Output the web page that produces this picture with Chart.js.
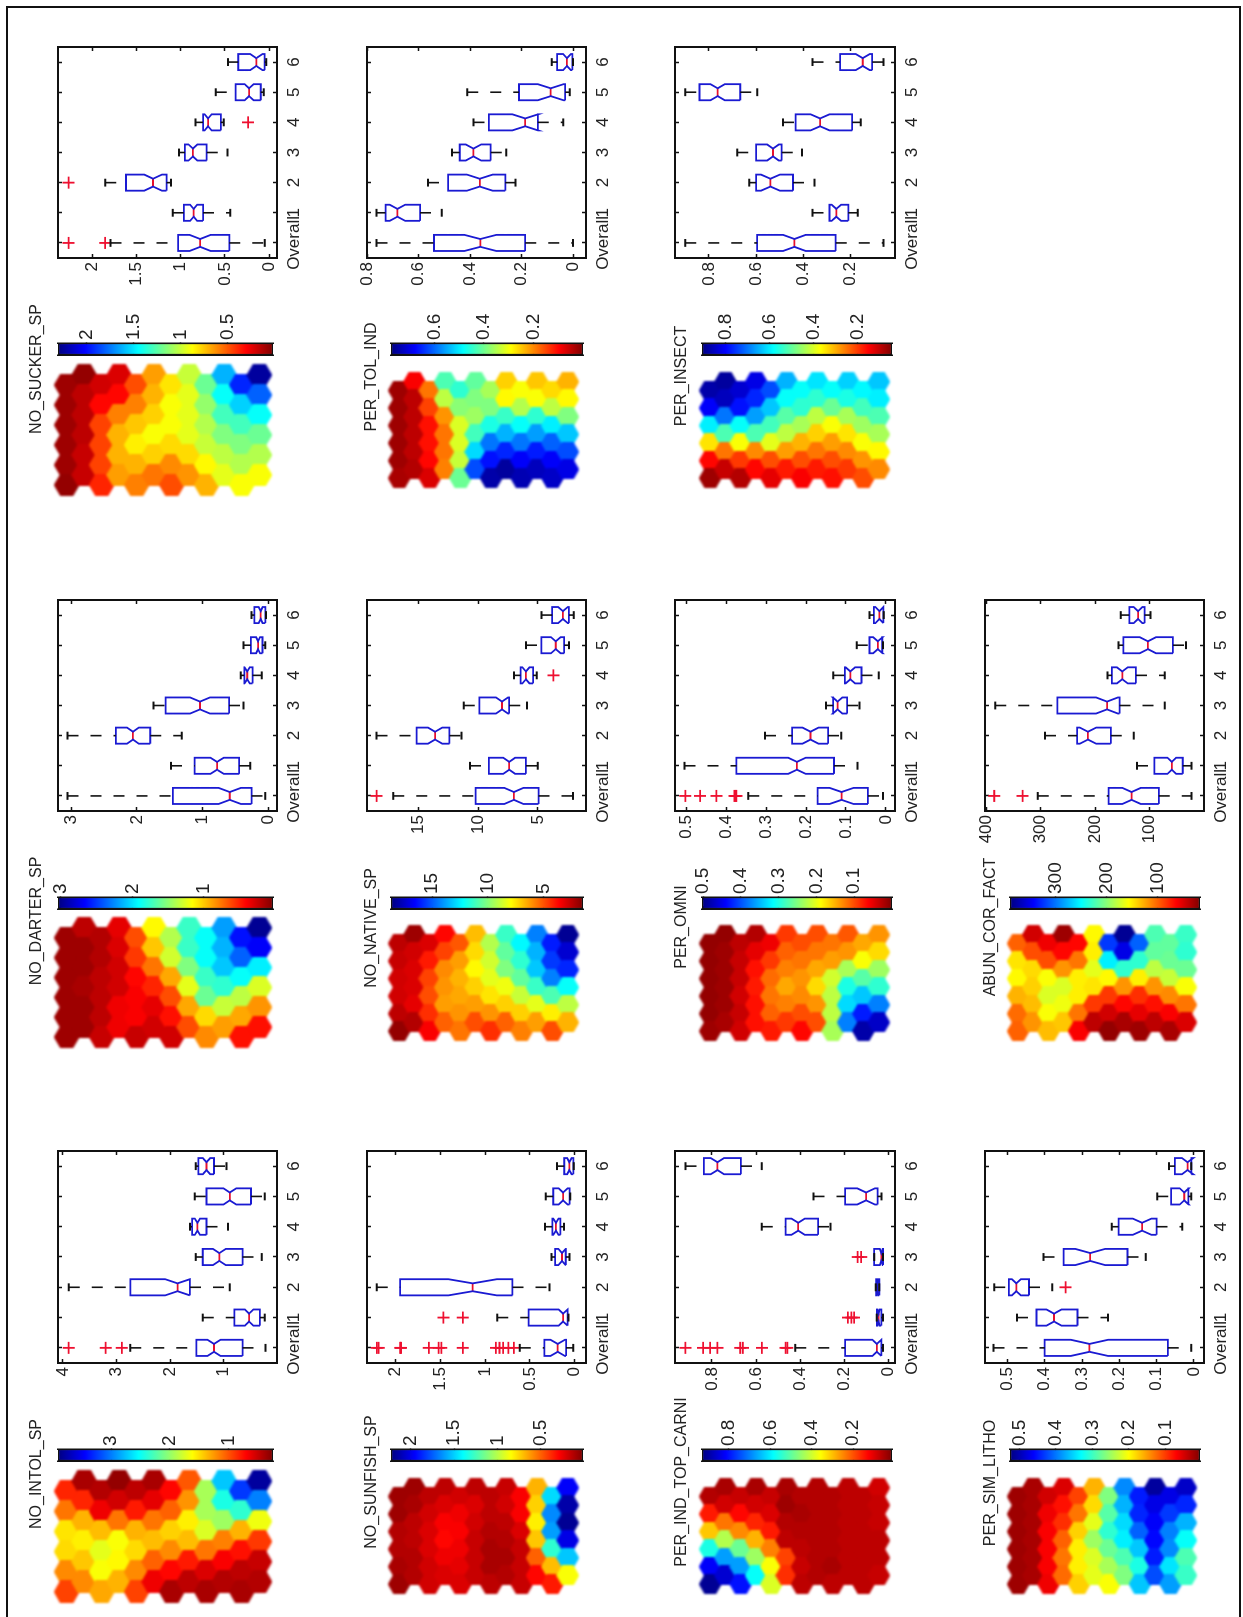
<!DOCTYPE html>
<html><head><meta charset="utf-8"><title>SOM component planes and box plots</title>
<style>
html,body{margin:0;padding:0;width:1243px;height:1617px;overflow:hidden;background:#fff}
#frame{position:absolute;left:6px;top:6px;width:1235px;height:1700px;border:2px solid #111;box-sizing:border-box}
#root{position:absolute;left:0;top:0;width:1617px;height:1243px;transform-origin:0 0;transform:translateY(1617px) rotate(-90deg)}
#root canvas{position:absolute;filter:blur(.35px)}
#root canvas.hex{filter:blur(.9px)}
.t{position:absolute;transform:translate(-50%,-50%);white-space:nowrap;font:16px "Liberation Sans",Arial,sans-serif;color:#222}
</style>
<script src="https://cdn.jsdelivr.net/npm/chart.js@4/dist/chart.umd.js"></script>
</head><body><div id="frame"></div><div id="root"></div>
<script>
const boxCategories=['Overall','1','2','3','4','5','6'];
// box rows: [low whisker, Q1, median, Q3, high whisker, notch half-height]; one row per category
const boxNoSucker=[[.05,.45,.78,1.03,1.795,.12],[.44,.747,.854,.965,1.09,.04],[1.11,1.16,1.314,1.62,1.856,.1],[.47,.706,.862,.953,1.02,.05],[.513,.546,.69,.747,.834,.04],[.06,.094,.226,.378,.604,.05],[.033,.05,.144,.349,.464,.07]];
const outNoSucker=[[1,2.27],[1,1.856],[3,2.27],[5,.238]];
const boxPerTol=[[0,.186,.36,.54,.763,.062],[.51,.594,.682,.728,.763,.03],[.224,.263,.362,.485,.563,.05],[.26,.32,.387,.44,.47,.03],[.038,.137,.186,.327,.387,.05],[.013,.031,.087,.21,.411,.05],[0,.003,.024,.062,.083,.015]];
const outPerTol=[];
const boxPerInsect=[[.059,.262,.437,.595,.9,.048],[.168,.208,.259,.288,.36,.02],[.352,.443,.539,.6,.629,.04],[.405,.491,.528,.6,.68,.025],[.155,.192,.328,.432,.485,.04],[.595,.667,.763,.84,.9,.03],[.059,.107,.147,.243,.36,.03]];
const outPerInsect=[];
const boxNoDarter=[[.044,.254,.586,1.453,3.055,.17],[.276,.442,.779,1.12,1.48,.1],[1.315,1.796,2.06,2.32,3.055,.09],[.376,.597,1.039,1.563,1.746,.15],[.1,.238,.32,.365,.42,.04],[.044,.088,.155,.265,.376,.03],[.033,.044,.116,.21,.254,.03]];
const outNoDarter=[];
const boxNoNative=[[2.06,4.94,7,10.2,17.1,.8],[5,6,7.4,9.1,10.67,.5],[11.4,12.4,13.6,15.15,18.5,.6],[5.9,7.4,8,9.9,11.2,.5],[5.1,5.4,6,6.45,7,.3],[2.4,2.8,3.5,4.7,6,.4],[2,2.4,2.9,3.8,4.7,.4]];
const outNoNative=[[1,18.5],[5,3.7]];
const boxPerOmni=[[.007,.045,.111,.171,.345,.03],[.071,.13,.223,.375,.505,.022],[.112,.145,.189,.235,.303,.02],[.066,.097,.121,.132,.15,.012],[.018,.061,.089,.103,.132,.012],[.007,.009,.02,.041,.073,.012],[.005,.006,.016,.03,.041,.01]];
const outPerOmni=[[1,.503],[1,.466],[1,.425],[1,.38],[1,.375],[1,.377]];
const boxAbun=[[23,83,133,175,305,17],[23,39,59,91,123,8],[129,171,213,233,292,15],[72,155,178,269,383,20],[72,125,150,169,177,10],[33,57,103,148,157,15],[98,109,121,137,153,8]];
const outAbun=[[1,385],[1,333]];
const boxNoIntol=[[.22,.648,1.18,1.51,2.74,.12],[.235,.323,.526,.8,1.39,.08],[.885,1.63,1.86,2.74,3.89,.23],[.29,.648,1.08,1.39,1.52,.12],[.92,1.32,1.49,1.59,1.63,.05],[.235,.49,.885,1.32,1.54,.12],[.946,1.18,1.32,1.47,1.52,.07]];
const outNoIntol=[[1,3.89],[1,3.2],[1,2.9]];
const boxNoSunfish=[[.016,.097,.19,.34,.615,.08],[.07,.08,.13,.514,.866,.05],[.283,.696,1.14,1.95,2.21,.27],[.057,.1,.142,.219,.259,.04],[.12,.16,.21,.25,.332,.03],[.05,.057,.13,.24,.324,.05],[.01,.016,.06,.117,.198,.025]];
const outNoSunfish=[[1,2.21],[1,2.19],[1,1.95],[1,1.94],[1,1.63],[1,1.52],[1,1.49],[1,1.25],[1,.88],[1,.84],[1,.8],[1,.74],[1,.68],[2,1.466],[2,1.25]];
const boxPerInd=[[.026,.034,.054,.198,.423,.02],[.026,.034,.046,.054,.054,.005],[.043,.043,.051,.057,.059,.003],[.026,.026,.034,.066,.066,.006],[.264,.32,.41,.467,.575,.03],[.033,.051,.103,.198,.341,.04],[.575,.669,.775,.836,.92,.03]];
const outPerInd=[[1,.92],[1,.84],[1,.808],[1,.775],[1,.672],[1,.66],[1,.574],[1,.467],[1,.459],[2,.185],[2,.169],[2,.157],[4,.141],[4,.125]];
const boxPerSim=[[.007,.07,.28,.4,.537,.05],[.23,.312,.375,.422,.474,.02],[.38,.442,.476,.496,.535,.012],[.129,.178,.278,.349,.403,.04],[.031,.1,.139,.202,.22,.025],[.007,.015,.026,.061,.098,.012],[.007,.007,.017,.051,.067,.015]];
const outPerSim=[[3,.344]];

// hexagon cells: 12 columns of 6, listed page-left to page-right, read as percent along the colour bar (0 = low end, dark red; 100 = high end, navy)
const hexNoSucker=[[3,3,3,3,3,2],[2,6,6,6,7,7],[8,13,19,19,19,16],[9,13,25,30,30,28],[20,25,32,36,30,25],[28,30,33,38,33,24],[35,38,38,34,26,20],[43,40,40,40,34,27],[52,48,45,43,37,30],[70,62,56,50,44,40],[84,67,56,50,45,38],[97,78,62,52,45,38]];
const hexPerTol=[[3,3,3,3,3,4],[12,6,6,6,6,5],[24,19,14,14,13,9],[55,44,27,24,24,25],[58,49,41,41,43,52],[53,50,47,56,66,80],[46,50,60,76,86,96],[33,37,57,70,84,97],[38,45,62,76,88,95],[32,38,58,72,85,94],[34,44,64,78,88,93],[30,37,50,68,80,90]];
const hexPerInsect=[[96,88,64,35,13,3],[97,94,76,55,24,7],[92,86,62,38,18,5],[90,84,72,55,26,13],[80,68,56,40,20,10],[70,62,54,44,28,15],[62,58,46,30,20,12],[65,58,44,33,24,15],[62,52,38,28,20,14],[67,60,46,35,26,18],[63,56,47,38,27,20],[68,64,55,46,37,26]];
const hexNoDarter=[[3,3,3,3,3,3],[6,3,3,4,3,3],[5,5,6,6,6,7],[10,9,8,8,11,11],[20,18,13,12,12,7],[37,32,24,16,10,8],[45,42,29,20,14,8],[57,57,50,40,29,20],[62,62,57,52,34,26],[72,70,68,58,43,28],[86,78,62,44,29,14],[98,88,64,41,27,14]];
const hexNoNative=[[6,7,8,8,6,2],[3,8,9,9,10,5],[9,15,19,20,17,12],[13,19,26,27,28,22],[21,28,30,29,27,24],[31,34,37,33,28,20],[45,42,40,35,27,17],[57,53,50,39,33,22],[63,58,53,43,33,25],[75,70,68,57,40,28],[85,82,75,55,36,20],[98,92,84,62,44,30]];
const hexPerOmni=[[2,2,2,2,2,3],[2,3,3,3,3,4],[6,7,7,8,7,8],[5,10,14,15,14,14],[11,18,23,24,22,15],[18,22,25,29,25,18],[20,24,27,26,20,13],[20,24,29,34,27,20],[24,28,42,44,44,46],[21,27,46,60,66,75],[29,38,54,68,85,96],[27,34,47,58,75,93]];
const hexAbun=[[22,35,37,30,23,22],[8,20,34,33,31,27],[11,20,38,41,38,31],[3,13,27,41,39,32],[13,24,36,36,24,12],[37,36,40,35,18,6],[82,64,37,18,8,2],[98,90,58,27,13,4],[78,58,36,17,10,3],[55,53,44,27,14,6],[53,52,43,26,12,4],[57,58,52,38,24,9]];
const hexNoIntol=[[16,24,35,34,26,19],[4,16,30,36,32,26],[5,11,31,40,38,29],[2,8,24,38,37,30],[6,15,30,34,26,19],[4,10,24,31,22,11],[13,22,33,26,13,4],[21,27,36,31,15,6],[46,46,41,24,9,4],[68,60,47,25,12,5],[82,58,30,14,6,4],[97,75,39,18,7,5]];
const hexNoSunfish=[[3,3,5,5,4,3],[3,4,6,6,5,5],[6,8,9,9,8,8],[6,9,12,13,11,9],[8,11,12,11,10,9],[6,9,8,7,7,7],[6,6,5,4,4,6],[7,8,6,5,4,5],[12,12,9,7,7,7],[30,33,36,32,22,13],[66,74,72,58,31,15],[88,96,98,90,68,38]];
const hexPerInd=[[5,15,32,60,88,98],[4,8,24,45,72,92],[7,13,26,52,72,86],[4,8,16,30,47,62],[7,9,15,25,38,41],[4,3,5,6,19,17],[5,4,5,6,7,6],[5,5,5,5,5,5],[5,5,5,5,4,6],[6,6,6,6,6,6],[6,6,6,6,6,6],[8,7,7,6,6,7]];
const hexPerSim=[[3,3,3,3,3,3],[4,4,4,4,4,4],[8,11,12,12,12,11],[9,14,17,22,24,23],[19,24,33,36,36,33],[30,34,40,47,41,40],[50,54,58,52,46,38],[74,70,66,64,55,50],[85,84,78,68,60,68],[97,90,88,87,85,80],[90,82,75,74,65,72],[93,84,70,62,55,57]];

// axis ticks and limits
const tickNoSucker=[0,.5,1,1.5,2], limNoSucker=[-.09,2.39], barNoSucker=[.02,2.3], barTickNoSucker=[.5,1,1.5,2];
const tickPerTol=[0,.2,.4,.6,.8], limPerTol=[-.05,.8], barPerTol=[0,.775], barTickPerTol=[.2,.4,.6];
const tickPerInsect=[.2,.4,.6,.8], limPerInsect=[.01,.944], barPerInsect=[.045,.907], barTickPerInsect=[.2,.4,.6,.8];
const tickNoDarter=[0,1,2,3], limNoDarter=[-.133,3.2], barNoDarter=[.03,3.04], barTickNoDarter=[1,2,3];
const tickNoNative=[5,10,15], limNoNative=[.97,19.3], barNoNative=[1.45,18.7], barTickNoNative=[5,10,15];
const tickPerOmni=[0,.1,.2,.3,.4,.5], limPerOmni=[-.023,.529], barPerOmni=[0,.503], barTickPerOmni=[.1,.2,.3,.4,.5];
const tickAbun=[100,200,300,400], limAbun=[0,402], barAbun=[17,390], barTickAbun=[100,200,300];
const tickNoIntol=[1,2,3,4], limNoIntol=[.005,4.09], barNoIntol=[.25,3.9], barTickNoIntol=[1,2,3];
const tickNoSunfish=[0,.5,1,1.5,2], limNoSunfish=[-.126,2.32], barNoSunfish=[.01,2.23], barTickNoSunfish=[.5,1,1.5,2];
const tickPerInd=[0,.2,.4,.6,.8], limPerInd=[-.028,.967], barPerInd=[.013,.93], barTickPerInd=[.2,.4,.6,.8];
const tickPerSim=[0,.1,.2,.3,.4,.5], limPerSim=[-.027,.56], barPerSim=[.005,.526], barTickPerSim=[.1,.2,.3,.4,.5];

const PAGE_H=1617;
const FONT='"Liberation Sans",Arial,sans-serif';
const INK='#222';
const root=document.getElementById('root');

const boxCols=[[57.5,276],[366.5,585],[675,895],[985,1204]];
const boxRows=[[47,258],[600,811],[1151,1363]];
const barCols=[[57.5,272],[391,582.6],[701.5,891],[1010,1200]];
const barRows=[[343,355],[897,909],[1449,1461]];
const hexCols=[[55,270.7],[389.3,578.7],[699.5,888],[1008,1196]];
const hexRowsWide=[[365,495],[918,1047],[1471,1602]];
const hexRowsNarrow=[[373,487],[926,1040],[1479,1593]];

const panels=[
 {name:'NO_SUCKER_SP',c:0,r:0,box:boxNoSucker,out:outNoSucker,hex:hexNoSucker,tick:tickNoSucker,lim:limNoSucker,bar:barNoSucker,barTick:barTickNoSucker,tx:36,ty:369},
 {name:'PER_TOL_IND',c:1,r:0,box:boxPerTol,out:outPerTol,hex:hexPerTol,tick:tickPerTol,lim:limPerTol,bar:barPerTol,barTick:barTickPerTol,tx:371,ty:377},
 {name:'PER_INSECT',c:2,r:0,box:boxPerInsect,out:outPerInsect,hex:hexPerInsect,tick:tickPerInsect,lim:limPerInsect,bar:barPerInsect,barTick:barTickPerInsect,tx:681,ty:376},
 {name:'NO_DARTER_SP',c:0,r:1,box:boxNoDarter,out:outNoDarter,hex:hexNoDarter,tick:tickNoDarter,lim:limNoDarter,bar:barNoDarter,barTick:barTickNoDarter,tx:36,ty:921},
 {name:'NO_NATIVE_SP',c:1,r:1,box:boxNoNative,out:outNoNative,hex:hexNoNative,tick:tickNoNative,lim:limNoNative,bar:barNoNative,barTick:barTickNoNative,tx:371,ty:928},
 {name:'PER_OMNI',c:2,r:1,box:boxPerOmni,out:outPerOmni,hex:hexPerOmni,tick:tickPerOmni,lim:limPerOmni,bar:barPerOmni,barTick:barTickPerOmni,tx:681,ty:927},
 {name:'ABUN_COR_FACT',c:3,r:1,box:boxAbun,out:outAbun,hex:hexAbun,tick:tickAbun,lim:limAbun,bar:barAbun,barTick:barTickAbun,tx:990,ty:927},
 {name:'NO_INTOL_SP',c:0,r:2,box:boxNoIntol,out:outNoIntol,hex:hexNoIntol,tick:tickNoIntol,lim:limNoIntol,bar:barNoIntol,barTick:barTickNoIntol,tx:36,ty:1474},
 {name:'NO_SUNFISH_SP',c:1,r:2,box:boxNoSunfish,out:outNoSunfish,hex:hexNoSunfish,tick:tickNoSunfish,lim:limNoSunfish,bar:barNoSunfish,barTick:barTickNoSunfish,tx:371,ty:1482},
 {name:'PER_IND_TOP_CARNI',c:2,r:2,box:boxPerInd,out:outPerInd,hex:hexPerInd,tick:tickPerInd,lim:limPerInd,bar:barPerInd,barTick:barTickPerInd,tx:681,ty:1482},
 {name:'PER_SIM_LITHO',c:3,r:2,box:boxPerSim,out:outPerSim,hex:hexPerSim,tick:tickPerSim,lim:limPerSim,bar:barPerSim,barTick:barTickPerSim,tx:990,ty:1483}
];

// reversed jet colour map: f=0 dark red, f=1 navy
const jetStops=[[0,[128,0,0]],[.125,[255,0,0]],[.375,[255,255,0]],[.625,[0,255,255]],[.875,[0,0,255]],[1,[0,0,128]]];
function jet(f){
  for(let i=1;i<jetStops.length;i++){
    if(f<=jetStops[i][0]){
      const [a,ca]=jetStops[i-1],[b,cb]=jetStops[i],t=(f-a)/(b-a);
      return 'rgb('+ca.map((v,k)=>Math.round(v+(cb[k]-v)*t)).join(',')+')';
    }
  }
  return 'rgb(0,0,128)';
}
function addCanvas(left,top,w,h,cls){
  const c=document.createElement('canvas');
  c.width=Math.round(w);c.height=Math.round(h);
  c.style.left=left+'px';c.style.top=top+'px';
  c.style.width=Math.round(w)+'px';c.style.height=Math.round(h)+'px';
  if(cls)c.className=cls;
  root.appendChild(c);
  return c;
}
function fixedTicks(vals){return s=>{s.ticks=vals.map(v=>({value:v}));};}
const base={responsive:false,animation:false,devicePixelRatio:1,events:[],
  plugins:{legend:{display:false},tooltip:{enabled:false},title:{display:false}}};

function drawBox(p){
  const [x0,x1]=boxCols[p.c],[y0,y1]=boxRows[p.r];
  const mL=44,mB=34,mT=20,mR=20;
  const cv=addCanvas(PAGE_H-y1-mL,x0-mT,(y1-y0)+mL+mR,(x1-x0)+mT+mB);
  const W=.267,N=.13,C=.13,shell=[],meds=[],whisk=[],caps=[];
  const gap={x:NaN,y:NaN};
  p.box.forEach((b,i)=>{
    const x=i+1,[lo,q1,med,q3,hi,n]=b;
    shell.push({x:x-W,y:q1},{x:x-W,y:med-n},{x:x-N,y:med},{x:x-W,y:med+n},{x:x-W,y:q3},{x:x+W,y:q3},{x:x+W,y:med+n},{x:x+N,y:med},{x:x+W,y:med-n},{x:x+W,y:q1},{x:x-W,y:q1},gap);
    meds.push({x:x-N,y:med},{x:x+N,y:med},gap);
    whisk.push({x,y:hi},{x,y:q3},gap,{x,y:q1},{x,y:lo},gap);
    caps.push({x:x-C,y:hi},{x:x+C,y:hi},gap,{x:x-C,y:lo},{x:x+C,y:lo},gap);
  });
  const line=(label,data,color,w,dash)=>({label,data,showLine:true,borderColor:color,borderWidth:w,borderDash:dash||[],pointRadius:0,fill:false,tension:0,spanGaps:false,borderJoinStyle:'miter'});
  const bdr={display:true,color:'#111',width:2};
  const grid={drawOnChartArea:false,tickLength:-4,tickColor:'#111',tickWidth:1.5};
  const bt=fixedTicks([1,2,3,4,5,6,7]),vt=fixedTicks(p.tick);
  new Chart(cv,{type:'scatter',data:{datasets:[
    line('whiskers',whisk,'#111',1.6,[11,12]),
    line('caps',caps,'#111',2),
    line('boxes',shell,'#1a1ad2',1.8),
    line('medians',meds,'#e8102c',1.8),
    {label:'outliers',data:p.out.map(o=>({x:o[0],y:o[1]})),showLine:false,pointStyle:'cross',pointRadius:6,pointBorderColor:'#ee1030',pointBorderWidth:1.8,clip:false}
  ]},options:{...base,layout:{autoPadding:false,padding:0},scales:{
    x:{type:'linear',position:'bottom',min:.5,max:7.5,afterBuildTicks:bt,afterFit:s=>{s.height=mB;},grid,border:bdr,
       ticks:{autoSkip:false,maxRotation:0,minRotation:0,padding:11,color:INK,font:{family:FONT,size:17},callback:v=>boxCategories[v-1]}},
    x2:{type:'linear',position:'top',min:.5,max:7.5,afterBuildTicks:bt,afterFit:s=>{s.height=mT;},grid,border:bdr,ticks:{display:false}},
    y:{type:'linear',position:'left',min:p.lim[0],max:p.lim[1],afterBuildTicks:vt,afterFit:s=>{s.width=mL;},grid,border:bdr,
       ticks:{autoSkip:false,padding:8,color:INK,font:{family:FONT,size:17},callback:v=>String(v)}},
    y2:{type:'linear',position:'right',min:p.lim[0],max:p.lim[1],afterBuildTicks:vt,afterFit:s=>{s.width=mR;},grid,border:bdr,ticks:{display:false}}
  }}});
}

function drawBar(p){
  const [x0,x1]=barCols[p.c],[y0,y1]=barRows[p.r];
  const mL=3,mR=42,pad=20;
  const cv=addCanvas(PAGE_H-y1-mL,x0-pad,(y1-y0)+mL+mR,(x1-x0)+2*pad);
  const bdr={display:true,color:'#111',width:1.5};
  const grid={drawOnChartArea:false,tickLength:-3,tickColor:'#111',tickWidth:1.5};
  const vt=fixedTicks(p.barTick);
  new Chart(cv,{type:'bar',data:{labels:[p.name],datasets:[{
    data:[[p.bar[0],p.bar[1]]],barPercentage:1,categoryPercentage:1,borderWidth:1.5,borderColor:'#111',borderSkipped:false,
    backgroundColor:c=>{
      const a=c.chart.chartArea; if(!a)return '#888';
      const g=c.chart.ctx.createLinearGradient(0,a.bottom,0,a.top);
      jetStops.forEach(s=>g.addColorStop(s[0],jet(Math.min(s[0],.9999))));
      return g;
    }
  }]},options:{...base,layout:{autoPadding:false,padding:{top:pad,bottom:pad}},scales:{
    x:{type:'category',display:false},
    y:{type:'linear',position:'right',min:p.bar[0],max:p.bar[1],afterBuildTicks:vt,afterFit:s=>{s.width=mR;},grid,border:bdr,
       ticks:{autoSkip:false,padding:6,color:INK,font:{family:FONT,size:19},callback:v=>String(v)}},
    y2:{type:'linear',position:'left',min:p.bar[0],max:p.bar[1],afterBuildTicks:vt,afterFit:s=>{s.width=mL;},grid,border:bdr,ticks:{display:false}}
  }}});
}

const hexCache={};
function hexImage(color,cw,ch){
  const key=color+cw+ch;
  if(hexCache[key])return hexCache[key];
  const m=1,c=document.createElement('canvas');
  c.width=Math.ceil(cw+2*m);c.height=Math.ceil(ch+2*m);
  const g=c.getContext('2d'),w=c.width,h=c.height;
  g.fillStyle=color;g.beginPath();
  g.moveTo(w/2,0);g.lineTo(w,h/4);g.lineTo(w,3*h/4);g.lineTo(w/2,h);g.lineTo(0,3*h/4);g.lineTo(0,h/4);g.closePath();g.fill();
  return hexCache[key]=c;
}
function drawHex(p){
  const [x0,x1]=hexCols[p.c],[y0,y1]=(p.c===0?hexRowsWide:hexRowsNarrow)[p.r];
  const w=y1-y0,h=x1-x0;
  const cv=addCanvas(PAGE_H-y1-2,x0-2,w+4,h+4,'hex');
  const cw=w/6.5,ch=h/18.5*2;
  const pts=[],imgs=[];
  p.hex.forEach((col,j)=>col.forEach((lvl,i)=>{
    pts.push({x:(5-i)+(j%2?.5:0),y:j});
    imgs.push(hexImage(jet(lvl/100),cw,ch));
  }));
  new Chart(cv,{type:'scatter',data:{datasets:[{label:p.name,data:pts,pointStyle:imgs,pointRadius:3,pointBorderWidth:0,clip:false}]},
    options:{...base,layout:{autoPadding:false,padding:2},scales:{
      x:{type:'linear',display:false,min:-.5,max:6},
      y:{type:'linear',display:false,reverse:true,min:-2/3,max:11+2/3}
    }}});
}
function drawTitle(p){
  const d=document.createElement('div');d.className='t';d.textContent=p.name;
  d.style.left=(PAGE_H-p.ty)+'px';d.style.top=p.tx+'px';root.appendChild(d);
}
panels.forEach(p=>{drawBox(p);drawBar(p);drawHex(p);drawTitle(p);});
</script></body></html>
